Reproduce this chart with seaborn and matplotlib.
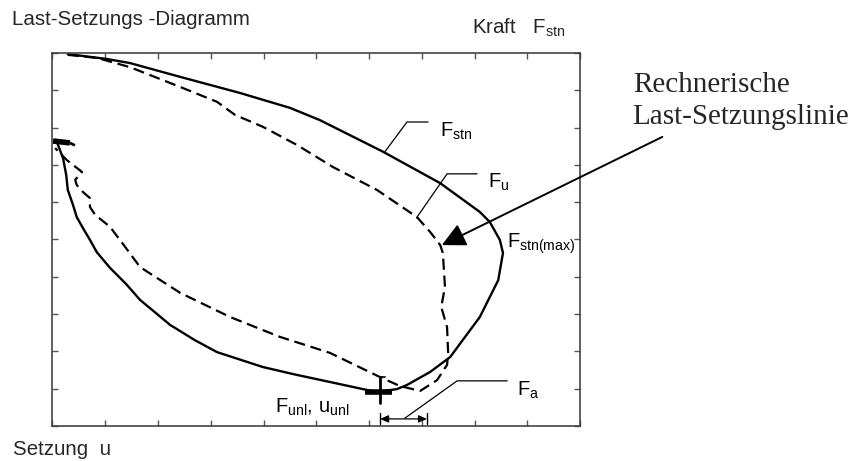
import matplotlib
matplotlib.use("Agg")
import matplotlib.pyplot as plt
import pandas as pd
import seaborn as sns

# Measured load path F_stn (solid) as a closed loop, settlement u on x, force on y
stn_u = [0.09, 0.14, 0.20, 0.26, 0.29, 0.39, 0.46, 0.60, 0.71, 0.84, 1.09, 1.40,
         1.66, 2.23, 2.70, 3.12, 3.99, 4.60, 5.26, 5.75, 6.15, 6.53, 6.72, 7.16,
         7.54, 7.78, 8.10, 8.45, 8.54, 8.48, 8.29, 8.10, 7.35, 6.27, 5.07, 4.50,
         3.55, 2.42, 1.47, 1.03, 0.29]
stn_f = [7.59, 7.40, 7.18, 6.73, 6.33, 5.92, 5.60, 5.25, 4.99, 4.66, 4.24, 3.80,
         3.38, 2.71, 2.30, 1.98, 1.58, 1.38, 1.18, 1.03, 0.91, 0.99, 1.10, 1.45,
         1.85, 2.31, 2.92, 3.91, 4.64, 4.99, 5.47, 5.74, 6.51, 7.35, 8.20, 8.53,
         8.93, 9.36, 9.73, 9.84, 9.97]

# Calculated load-settlement line F_u (dashed)
fu_u = [0.29, 0.84, 1.47, 2.42, 3.12, 3.46, 3.99, 4.64, 5.32, 6.15, 6.91, 7.16,
        7.35, 7.40, 7.44, 7.37, 7.48, 7.50, 7.48, 7.29, 6.97, 6.59, 6.21, 5.26,
        4.31, 3.37, 2.42, 1.66, 1.32, 1.09, 0.81, 0.71, 0.71, 0.58, 0.46, 0.43,
        0.56, 0.27, 0.05]
fu_f = [9.95, 9.87, 9.62, 9.09, 8.69, 8.34, 8.02, 7.53, 6.94, 6.33, 5.60, 5.20,
        4.85, 4.64, 3.73, 3.19, 2.65, 1.96, 1.64, 1.23, 0.94, 1.07, 1.31, 1.96,
        2.39, 2.92, 3.57, 4.26, 4.91, 5.34, 5.66, 5.87, 6.11, 6.27, 6.46, 6.60,
        6.81, 7.13, 7.45]

# Short heavy trace where the test starts at the left edge
start_u = [0.01, 0.33]
start_f = [7.64, 7.59]

# Unloading point (F_unl, u_unl) and the settlement span F_a
unl_u, unl_f = 6.21, 0.91
fa_u = [6.21, 7.10]

tick_positions = list(range(0, 11))

sns.set_theme(style="white")
plt.rcParams["font.family"] = ["Liberation Sans", "DejaVu Sans"]
plt.rcParams["mathtext.fontset"] = "custom"
plt.rcParams["mathtext.rm"] = "Liberation Sans"
plt.rcParams["mathtext.default"] = "regular"

W, H = 853, 461
fig = plt.figure(figsize=(W / 100, H / 100), dpi=100)
ax = fig.add_axes([52.5 / W, 1 - 426 / H, (580 - 52.5) / W, (426 - 53) / H])

stn = pd.DataFrame({"u": stn_u, "F": stn_f})
fu = pd.DataFrame({"u": fu_u, "F": fu_f})

sns.lineplot(data=stn, x="u", y="F", sort=False, estimator=None, color="black",
             linewidth=1.7, ax=ax)
sns.lineplot(data=fu, x="u", y="F", sort=False, estimator=None, color="black",
             linewidth=1.6, linestyle=(0, (5, 2.6)), ax=ax)
ax.plot(start_u, start_f, color="black", linewidth=4, solid_capstyle="butt")
ax.plot([start_u[1], 0.43], [start_f[1], 7.52], color="black", linewidth=2,
        linestyle=(0, (2, 1.5)))

ax.set_xlim(0, 10)
ax.set_ylim(0, 10)
ax.set_xlabel("")
ax.set_ylabel("")
ax.set_xticks(tick_positions)
ax.set_yticks(tick_positions)
ax.set_xticklabels([])
ax.set_yticklabels([])
ax.tick_params(direction="in", length=4, width=1, color="#555555",
               top=True, bottom=True, left=True, right=True)
for side in ax.spines.values():
    side.set_visible(True)
    side.set_color("#444444")
    side.set_linewidth(1.2)

# Unloading marker
ax.plot([unl_u, unl_u], [1.31, 0.62], color="black", linewidth=2)
ax.plot([unl_u, unl_u + 0.09], [1.31, 1.31], color="black", linewidth=1.2)
ax.plot([5.92, 6.44], [unl_f, unl_f], color="black", linewidth=4,
        solid_capstyle="butt")

# Dimension arrow for F_a
ax.annotate("", xy=(fa_u[0], 0.19), xytext=(fa_u[1], 0.19),
            arrowprops=dict(arrowstyle="<|-|>,head_length=0.5,head_width=0.22",
                            color="black", lw=0.9, shrinkA=0, shrinkB=0,
                            mutation_scale=10))
for xv in fa_u:
    ax.plot([xv, xv], [0.05, 0.35], color="black", linewidth=1)

leader = dict(color="black", linewidth=0.9, clip_on=False)
ax.plot([6.30, 6.72, 7.12], [7.35, 8.15, 8.15], **leader)
ax.plot([6.90, 7.48, 8.05], [5.58, 6.76, 6.76], **leader)
ax.plot([6.68, 7.67, 8.62], [0.21, 1.21, 1.21], **leader)

lab = dict(fontsize=14.5, ha="left", va="baseline", color="black")
ax.text(7.35, 7.75, r"$\mathregular{F_{stn}}$", **lab)
ax.text(8.25, 6.38, r"$\mathregular{F_{u}}$", **lab)
ax.text(8.62, 4.77, r"$\mathregular{F_{stn(max)}}$", **lab)
ax.text(8.81, 0.80, r"$\mathregular{F_{a}}$", **lab)
ax.text(4.22, 0.35, r"$\mathregular{F_{unl}}$, $\mathregular{u_{unl}}$", **lab)

# Pointer to the calculated line
ax.annotate("", xy=(7.38, 4.85), xytext=(11.56, 7.75), annotation_clip=False,
            arrowprops=dict(arrowstyle="-|>,head_length=1.44,head_width=0.72",
                            color="black", lw=1.4, shrinkA=0, shrinkB=0,
                            mutation_scale=10))

fig.text(12 / W, 1 - 25 / H, "Last-Setzungs -Diagramm", fontsize=14.8,
         ha="left", va="baseline")
fig.text(472 / W, 1 - 34 / H, r"Kraft   $\mathregular{F_{stn}}$", fontsize=14.8,
         ha="left", va="baseline")
fig.text(13 / W, 1 - 455 / H, "Setzung  u", fontsize=14.8, ha="left",
         va="baseline")
serif = dict(family="Liberation Serif", fontsize=21, ha="left", va="baseline")
fig.text(633 / W, 1 - 92 / H, "Rechnerische", **serif)
fig.text(632 / W, 1 - 124 / H, "Last-Setzungslinie", **serif)

fig.savefig("out.png", dpi=100)
